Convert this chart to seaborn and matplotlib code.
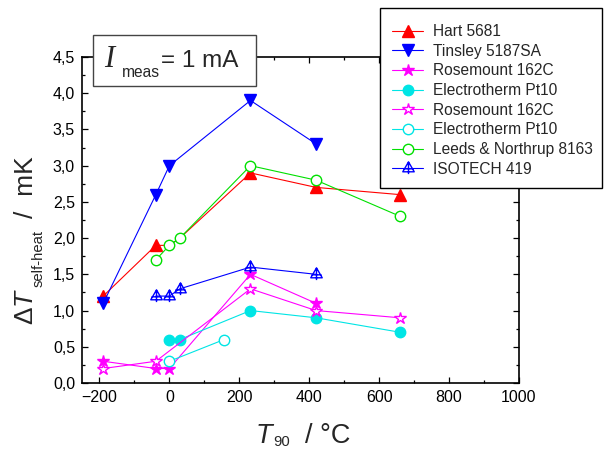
import matplotlib
matplotlib.use("Agg")
import matplotlib.pyplot as plt
import seaborn as sns
import numpy as np
from matplotlib.path import Path
from matplotlib.patches import Rectangle
from matplotlib.ticker import MultipleLocator, FuncFormatter

# ---- data ----
hart_x = [-189.3, -38.8, 0.0, 29.8, 231.9, 419.5, 660.3]
hart_y = [1.2, 1.9, 1.9, 2.0, 2.9, 2.7, 2.6]
tinsley_x = [-189.3, -38.8, 0.0, 231.9, 419.5]
tinsley_y = [1.1, 2.6, 3.0, 3.9, 3.3]
rose_f_x = [-189.3, -38.8, 0.0, 231.9, 419.5]
rose_f_y = [0.3, 0.2, 0.2, 1.5, 1.1]
elec_f_x = [0.0, 29.8, 231.9, 419.5, 660.3]
elec_f_y = [0.6, 0.6, 1.0, 0.9, 0.7]
rose_o_x = [-189.3, -38.8, 231.9, 419.5, 660.3]
rose_o_y = [0.2, 0.3, 1.3, 1.0, 0.9]
elec_o_x = [0.0, 156.6]
elec_o_y = [0.3, 0.6]
leeds_x = [-38.8, 0.0, 29.8, 231.9, 419.5, 660.3]
leeds_y = [1.7, 1.9, 2.0, 3.0, 2.8, 2.3]
iso_x = [-38.8, 0.0, 29.8, 231.9, 419.5]
iso_y = [1.2, 1.2, 1.3, 1.6, 1.5]

labels = ["Hart 5681", "Tinsley 5187SA", "Rosemount 162C", "Electrotherm Pt10",
          "Rosemount 162C", "Electrotherm Pt10", "Leeds & Northrup 8163", "ISOTECH 419"]
x_ticks = [-200, 0, 200, 400, 600, 800, 1000]
y_ticks = [0, 0.5, 1.0, 1.5, 2.0, 2.5, 3.0, 3.5, 4.0, 4.5]

sns.set_style("ticks")
plt.rcParams["font.family"] = ["Liberation Sans", "DejaVu Sans"]
plt.rcParams["mathtext.fontset"] = "custom"
plt.rcParams["mathtext.rm"] = "Liberation Sans"
plt.rcParams["mathtext.it"] = "Liberation Sans:italic"
plt.rcParams["mathtext.sf"] = "Liberation Sans"

W, H = 604, 450
fig = plt.figure(figsize=(W/100, H/100), dpi=100)
ax = fig.add_axes([82/W, 1-383/H, (519-82)/W, (383-57)/H])

def fx(px):
    return px / W

def fy(py):
    return 1 - py / H

# triangle with cross marker (ISOTECH)
tri_cross = Path(
    [(0, 1), (-0.87, -0.5), (0.87, -0.5), (0, 1),
     (0, 1), (0, -0.85),
     (-0.75, -0.05), (0.75, -0.05)],
    [Path.MOVETO, Path.LINETO, Path.LINETO, Path.CLOSEPOLY,
     Path.MOVETO, Path.LINETO,
     Path.MOVETO, Path.LINETO])

series = [
    (hart_x, hart_y, "#FF0000", "^", 8, "#FF0000", dict(markevery=[0, 1, 4, 5, 6])),
    (tinsley_x, tinsley_y, "#0000FF", "v", 8, "#0000FF", {}),
    (rose_f_x, rose_f_y, "#FF00FF", "*", 9, "#FF00FF", {}),
    (elec_f_x, elec_f_y, "#00E5E5", "o", 7.5, "#00E5E5", {}),
    (rose_o_x, rose_o_y, "#FF00FF", "*", 9, "white", {}),
    (elec_o_x, elec_o_y, "#00E5E5", "o", 7.5, "white", {}),
    (leeds_x, leeds_y, "#00E000", "o", 7.5, "white", {}),
    (iso_x, iso_y, "#0000FF", tri_cross, 9.5, "none", {}),
]

for i, (xs, ys, col, mk, ms, mfc, extra) in enumerate(series):
    sns.lineplot(x=xs, y=ys, ax=ax, sort=False, errorbar=None, legend=False,
                 color=col, lw=0.8, marker=mk, markersize=ms, mfc=mfc, mec=col,
                 markeredgewidth=1.0, label=labels[i], zorder=3 + i * 0.1, **extra)

ax.set_xlim(-250, 1000)
ax.set_ylim(0, 4.5)
ax.set_xticks(x_ticks)
ax.set_yticks(y_ticks)
ax.xaxis.set_minor_locator(MultipleLocator(100))
ax.yaxis.set_minor_locator(MultipleLocator(0.25))
ax.yaxis.set_major_formatter(FuncFormatter(lambda v, p: f"{v:.1f}".replace(".", ",")))
ax.tick_params(which="both", direction="in", top=True, right=True, width=0.9,
               labelsize=11.5, colors="black")
ax.tick_params(which="major", length=4.5)
ax.tick_params(which="minor", length=2.5)
ax.tick_params(axis="y", pad=5)
ax.tick_params(axis="x", pad=5)
ax.set_xlabel("")
ax.set_ylabel("")
for s in ax.spines.values():
    s.set_visible(True)
    s.set_linewidth(1.2)
    s.set_color("black")

# y-axis label (pieces: main, small subscript, unit)
rot = dict(rotation=90, rotation_mode="anchor", ha="left", va="baseline")
fig.text(fx(33), fy(325), r"$\Delta\mathit{T}$", fontsize=19, **rot)
fig.text(fx(43), fy(287), "self-heat", fontsize=10.7, **rot)
fig.text(fx(33), fy(218), "/  mK", fontsize=19, **rot)

# x-axis label
fig.text(fx(256), fy(443), "T", fontsize=19.5, style="italic", ha="left", va="baseline")
fig.text(fx(273), fy(446), "90", fontsize=10.7, ha="left", va="baseline")
fig.text(fx(305), fy(443), "/ °C", fontsize=19.5, ha="left", va="baseline")

# legend: frame drawn separately to match the reference box
fig.patches.append(Rectangle((fx(380), fy(188)), (602-380)/W, (188-8)/H,
                             transform=fig.transFigure, facecolor="white",
                             edgecolor="black", lw=1.0, zorder=4))
leg = ax.legend(loc="upper left", bbox_to_anchor=(fx(392), fy(24)),
                bbox_transform=fig.transFigure, fontsize=11.2, frameon=False,
                labelspacing=0.30, handlelength=2.0, handletextpad=0.65,
                borderpad=0, borderaxespad=0, numpoints=1)
leg.set_zorder(5)
leg.remove()
fig.add_artist(leg)

# inset label box
fig.patches.append(Rectangle((fx(93), fy(86)), (256-93)/W, (86-35)/H,
                             transform=fig.transFigure, facecolor="white",
                             edgecolor="#444444", lw=1.0, zorder=5))
fig.text(fx(104), fy(67), "I", family=["Liberation Serif"], style="italic",
         fontsize=22, va="baseline", ha="left", zorder=6)
fig.text(fx(122), fy(77), "meas", fontsize=11.2, va="baseline", ha="left", zorder=6)
fig.text(fx(161), fy(67), "= 1 mA", fontsize=17.5, va="baseline", ha="left", zorder=6)

fig.savefig("out.png", dpi=100, facecolor="white")
